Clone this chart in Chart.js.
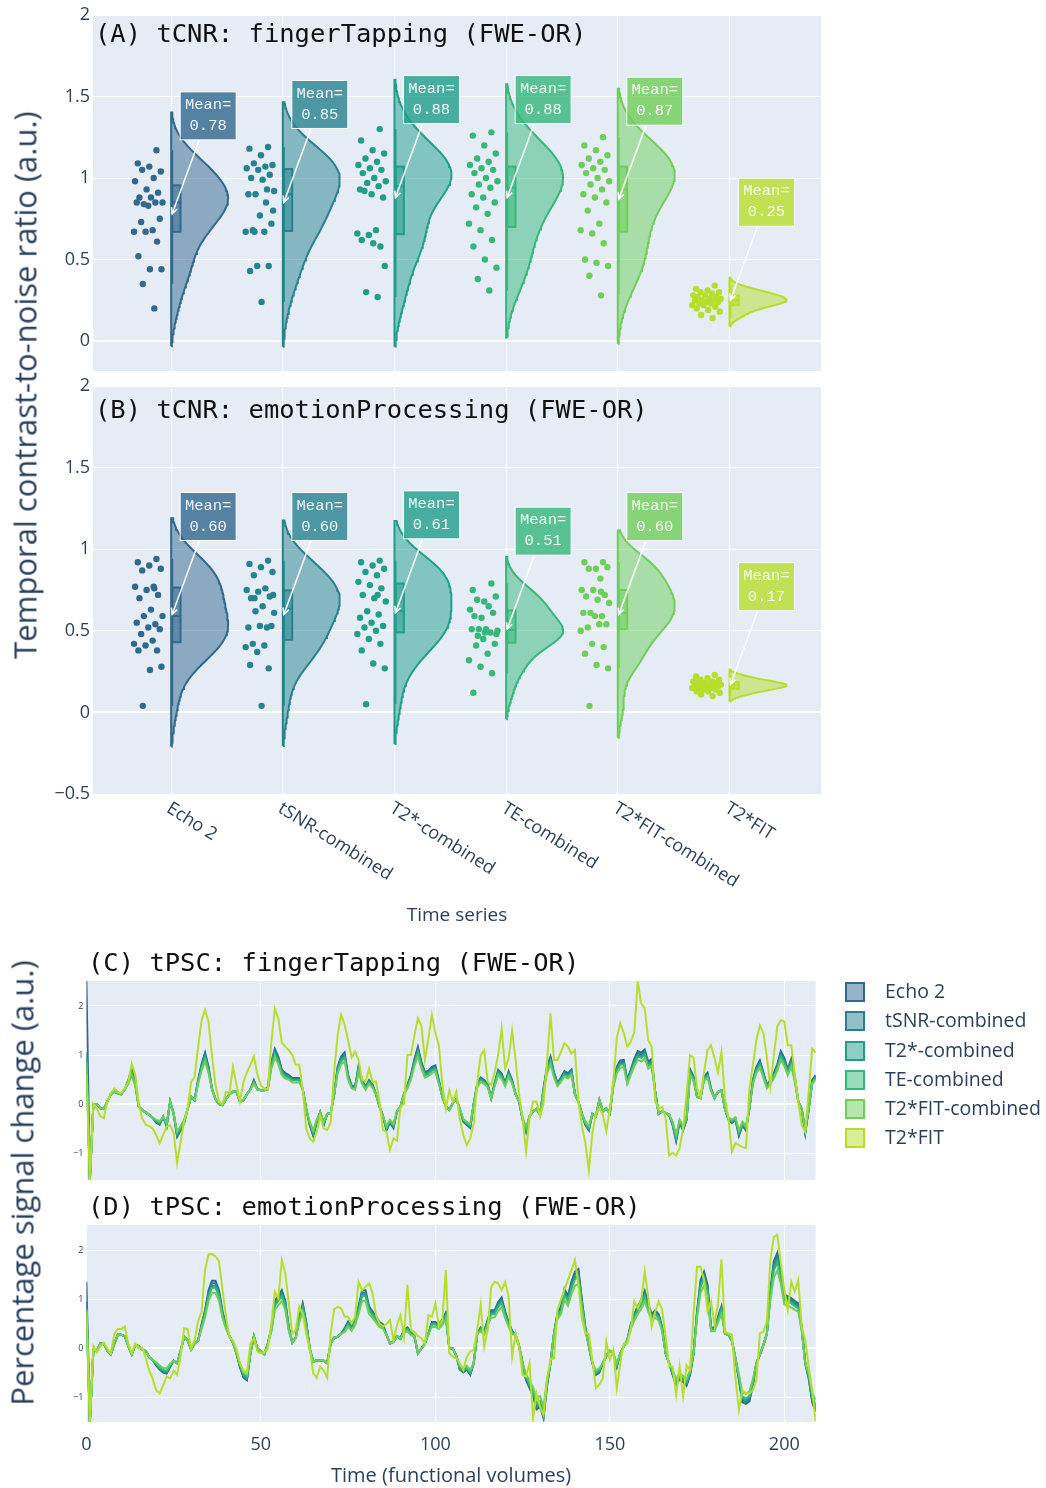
<!DOCTYPE html>
<html><head><meta charset="utf-8">
<script src="https://cdn.jsdelivr.net/npm/chart.js@4.4.1/dist/chart.umd.min.js"></script>
<style>
body{margin:0;background:#fff;width:1046px;height:1488px;position:relative;overflow:hidden;font-family:"Open Sans",sans-serif;}
canvas{position:absolute;left:0;}
.ptitle{position:absolute;font-family:"DejaVu Sans Mono",monospace;font-size:25.5px;color:#111;white-space:pre;line-height:1;}
.ytitle{position:absolute;color:#2a3f5f;font-size:31px;white-space:nowrap;transform:translate(-50%,-50%) rotate(-90deg);line-height:1;}
.leg{position:absolute;left:845px;font-size:19.5px;color:#2a3f5f;line-height:20px;}
.leg div{height:29.3px;position:relative;}
.leg span.sq{position:absolute;left:0;top:0;width:16px;height:16px;border:2px solid;}
.leg span.tx{position:absolute;left:40px;top:-1px;white-space:nowrap;}
</style></head>
<body>
<canvas id="cA" width="1046" height="390" style="top:0"></canvas>
<canvas id="cB" width="1046" height="570" style="top:370px"></canvas>
<canvas id="cC" width="1046" height="250" style="top:940px"></canvas>
<canvas id="cD" width="1046" height="303" style="top:1185px"></canvas>
<div class="ptitle" style="left:95px;top:21px">(A) tCNR: fingerTapping (FWE-OR)</div>
<div class="ptitle" style="left:95px;top:397px">(B) tCNR: emotionProcessing (FWE-OR)</div>
<div class="ptitle" style="left:88px;top:950px">(C) tPSC: fingerTapping (FWE-OR)</div>
<div class="ptitle" style="left:88px;top:1194px">(D) tPSC: emotionProcessing (FWE-OR)</div>
<div class="ytitle" style="left:25px;top:385px">Temporal contrast-to-noise ratio (a.u.)</div>
<div class="ytitle" style="left:22px;top:1183px">Percentage signal change (a.u.)</div>
<div class="leg" id="legend" style="top:982px"></div>
<script>
// ---------- categories / series ----------
const catNames = ['Echo 2','tSNR-combined','T2*-combined','TE-combined','T2*FIT-combined','T2*FIT'];
const colors = ['#31688e','#26828e','#1f9e89','#35b779','#6ece58','#b5de2b'];

// ---------- Panel A: tCNR fingerTapping (per-subject values) ----------
const aEcho2 = [1.17,1.09,1.07,1.04,1.05,1.0,0.98,0.93,0.91,0.88,0.88,0.85,0.84,0.85,0.85,0.83,0.75,0.73,0.68,0.67,0.67,0.61,0.52,0.44,0.44,0.35,0.2];
const aTsnr = [1.19,1.18,1.14,1.08,1.09,1.07,1.06,1.05,1.02,1.0,0.99,0.92,0.9,0.93,0.9,0.77,0.72,0.68,0.67,0.67,0.46,0.46,0.43,0.24,0.8,0.67,0.85];
const aT2s = [1.3,1.23,1.17,1.15,1.12,1.1,1.08,1.06,1.05,1.03,1.0,0.98,0.97,0.95,0.93,0.9,0.88,0.92,0.68,0.66,0.65,0.58,0.62,0.6,0.46,0.3,0.27];
const aTe = [1.28,1.26,1.2,1.15,1.12,1.1,1.08,1.06,1.05,1.03,1.0,0.98,0.96,0.94,0.9,0.88,0.85,0.82,0.78,0.72,0.68,0.62,0.58,0.5,0.45,0.38,0.31];
const aFitc = [1.25,1.2,1.17,1.14,1.12,1.1,1.08,1.06,1.05,1.03,1.0,0.98,0.96,0.93,0.9,0.88,0.85,0.8,0.72,0.68,0.66,0.6,0.5,0.48,0.46,0.4,0.28];
const aFit = [0.34,0.32,0.31,0.3,0.3,0.29,0.28,0.28,0.27,0.27,0.26,0.26,0.25,0.25,0.25,0.24,0.24,0.23,0.23,0.22,0.22,0.21,0.2,0.19,0.18,0.16,0.14];
const meanA = [0.78,0.85,0.88,0.88,0.87,0.25];
const meanLabelA = ['0.78','0.85','0.88','0.88','0.87','0.25'];

// ---------- Panel B: tCNR emotionProcessing ----------
const bEcho2 = [0.94,0.92,0.9,0.88,0.87,0.77,0.77,0.75,0.72,0.7,0.63,0.59,0.59,0.54,0.55,0.52,0.51,0.48,0.44,0.42,0.41,0.38,0.38,0.26,0.28,0.04,0.76];
const bTsnr = [0.93,0.91,0.89,0.86,0.84,0.76,0.75,0.74,0.71,0.7,0.65,0.61,0.62,0.52,0.52,0.53,0.53,0.42,0.41,0.4,0.37,0.27,0.29,0.04,0.72,0.7];
const bT2s = [0.93,0.92,0.9,0.88,0.86,0.84,0.8,0.78,0.76,0.72,0.7,0.68,0.62,0.6,0.58,0.55,0.53,0.52,0.5,0.48,0.45,0.42,0.38,0.3,0.27,0.05,0.72];
const bTe = [0.79,0.75,0.68,0.71,0.69,0.65,0.63,0.58,0.61,0.59,0.51,0.5,0.51,0.49,0.51,0.45,0.42,0.41,0.36,0.32,0.28,0.24,0.12,0.49,0.48,0.47];
const bFitc = [0.92,0.92,0.88,0.89,0.88,0.82,0.75,0.75,0.72,0.71,0.69,0.67,0.61,0.59,0.61,0.59,0.54,0.52,0.54,0.5,0.42,0.4,0.36,0.29,0.27,0.04,0.74];
const bFit = [0.23,0.22,0.21,0.2,0.2,0.19,0.19,0.18,0.18,0.18,0.17,0.17,0.17,0.17,0.16,0.16,0.16,0.15,0.15,0.15,0.14,0.14,0.13,0.13,0.12,0.11,0.1];
const meanB = [0.60,0.60,0.61,0.51,0.60,0.17];
const meanLabelB = ['0.60','0.60','0.61','0.51','0.60','0.17'];

// ---------- Panel C: tPSC fingerTapping (per volume) ----------
const cEcho2 = [2.51,-1.55,0,0,-0.09,-0.1,0.05,0.2,0.25,0.22,0.2,0.3,0.49,0.71,0.43,-0.05,-0.12,-0.17,-0.22,-0.28,-0.38,-0.42,-0.26,-0.46,0.05,-0.2,-0.67,-0.54,-0.39,-0.1,0.15,0.08,0.49,0.81,1.05,0.76,0.3,0.1,0,-0.02,0.1,0.2,0.25,0.25,0.05,0.08,0.2,0.3,0.49,0.3,0.28,0.28,0.35,0.86,1.13,0.97,0.7,0.63,0.59,0.53,0.53,0.53,0.3,-0.1,-0.43,-0.65,-0.39,-0.17,-0.43,-0.2,-0.19,0.2,0.76,0.97,1.05,0.59,0.38,0.35,0.78,0.49,0.35,0.49,0.4,0.2,-0.05,-0.25,-0.54,-0.38,-0.49,-0.15,-0.05,0.2,0.39,0.59,0.92,1.17,0.86,0.65,0.68,0.76,0.79,0.49,0.15,-0.05,-0.12,0.02,0.1,-0.1,-0.36,-0.43,-0.49,0,0.41,0.54,0.49,0.41,0.12,0.43,0.7,0.62,0.43,0.67,0.49,0.2,0.05,-0.32,-0.57,-0.25,-0.15,-0.1,-0.22,0.32,0.76,0.97,0.65,0.43,0.54,0.67,0.63,0.7,0.2,0.05,-0.2,-0.43,-0.54,-0.2,-0.25,0.08,-0.15,-0.09,-0.19,0.41,0.76,0.89,0.9,0.49,0.7,0.92,1.08,1.05,1.11,0.86,0.92,0.25,-0.2,-0.15,-0.18,-0.22,-0.43,-0.76,-0.38,-0.54,-0.32,0.71,0.56,0.15,0.12,0.56,0.64,0.32,0.12,0.25,0.28,-0.1,-0.32,-0.39,-0.32,-0.65,-0.43,-0.54,-0.09,0.49,0.76,0.89,0.65,0.39,0.49,0.63,0.81,1.08,0.94,0.71,0.92,0.56,0.05,-0.1,-0.6,-0.1,0.49,0.59];
const cTsnr = [1.05,-1.55,0,0,-0.09,-0.1,0.05,0.2,0.25,0.22,0.2,0.3,0.47,0.69,0.42,-0.05,-0.12,-0.17,-0.22,-0.28,-0.36,-0.41,-0.26,-0.45,0.05,-0.2,-0.64,-0.52,-0.37,-0.1,0.15,0.08,0.47,0.78,1.01,0.73,0.3,0.1,0,-0.02,0.1,0.2,0.25,0.25,0.05,0.08,0.2,0.3,0.47,0.3,0.28,0.28,0.33,0.83,1.09,0.94,0.68,0.6,0.57,0.51,0.51,0.51,0.3,-0.1,-0.42,-0.62,-0.37,-0.17,-0.42,-0.2,-0.19,0.2,0.73,0.94,1.01,0.57,0.36,0.33,0.75,0.47,0.33,0.47,0.38,0.2,-0.05,-0.25,-0.52,-0.36,-0.47,-0.15,-0.05,0.2,0.37,0.57,0.88,1.12,0.83,0.62,0.66,0.73,0.76,0.47,0.15,-0.05,-0.12,0.02,0.1,-0.1,-0.34,-0.42,-0.47,0,0.4,0.52,0.47,0.4,0.12,0.42,0.68,0.59,0.42,0.64,0.47,0.2,0.05,-0.31,-0.55,-0.25,-0.15,-0.1,-0.22,0.31,0.73,0.94,0.62,0.42,0.52,0.64,0.6,0.68,0.2,0.05,-0.2,-0.42,-0.52,-0.2,-0.25,0.08,-0.15,-0.09,-0.19,0.4,0.73,0.85,0.86,0.47,0.68,0.88,1.04,1.01,1.07,0.83,0.88,0.25,-0.2,-0.15,-0.18,-0.22,-0.42,-0.73,-0.36,-0.52,-0.31,0.69,0.54,0.15,0.12,0.54,0.61,0.31,0.12,0.25,0.28,-0.1,-0.31,-0.37,-0.31,-0.62,-0.42,-0.52,-0.09,0.47,0.73,0.85,0.62,0.37,0.47,0.6,0.78,1.04,0.9,0.69,0.88,0.54,0.05,-0.1,-0.58,-0.1,0.47,0.57];
const cT2s = [0.95,-1.55,0,0,-0.09,-0.1,0.05,0.2,0.25,0.22,0.2,0.3,0.45,0.66,0.4,-0.05,-0.12,-0.17,-0.22,-0.28,-0.35,-0.39,-0.26,-0.43,0.05,-0.2,-0.62,-0.5,-0.36,-0.1,0.15,0.08,0.45,0.75,0.97,0.7,0.3,0.1,0,-0.02,0.1,0.2,0.25,0.25,0.05,0.08,0.2,0.3,0.45,0.3,0.28,0.28,0.32,0.8,1.05,0.9,0.65,0.58,0.55,0.49,0.49,0.49,0.3,-0.1,-0.4,-0.6,-0.36,-0.17,-0.4,-0.2,-0.19,0.2,0.7,0.9,0.97,0.55,0.35,0.32,0.72,0.45,0.32,0.45,0.37,0.2,-0.05,-0.25,-0.5,-0.35,-0.45,-0.15,-0.05,0.2,0.36,0.55,0.85,1.08,0.8,0.6,0.63,0.7,0.73,0.45,0.15,-0.05,-0.12,0.02,0.1,-0.1,-0.33,-0.4,-0.45,0,0.38,0.5,0.45,0.38,0.12,0.4,0.65,0.57,0.4,0.62,0.45,0.2,0.05,-0.3,-0.53,-0.25,-0.15,-0.1,-0.22,0.3,0.7,0.9,0.6,0.4,0.5,0.62,0.58,0.65,0.2,0.05,-0.2,-0.4,-0.5,-0.2,-0.25,0.08,-0.15,-0.09,-0.19,0.38,0.7,0.82,0.83,0.45,0.65,0.85,1,0.97,1.03,0.8,0.85,0.25,-0.2,-0.15,-0.18,-0.22,-0.4,-0.7,-0.35,-0.5,-0.3,0.66,0.52,0.15,0.12,0.52,0.59,0.3,0.12,0.25,0.28,-0.1,-0.3,-0.36,-0.3,-0.6,-0.4,-0.5,-0.09,0.45,0.7,0.82,0.6,0.36,0.45,0.58,0.75,1,0.87,0.66,0.85,0.52,0.05,-0.1,-0.56,-0.1,0.45,0.55];
const cTe = [0.92,-1.55,0,0,-0.09,-0.1,0.05,0.2,0.25,0.22,0.2,0.3,0.44,0.64,0.39,-0.05,-0.12,-0.17,-0.22,-0.28,-0.34,-0.38,-0.26,-0.42,0.05,-0.2,-0.6,-0.49,-0.35,-0.1,0.15,0.08,0.44,0.73,0.94,0.68,0.3,0.1,0,-0.02,0.1,0.2,0.25,0.25,0.05,0.08,0.2,0.3,0.44,0.3,0.28,0.28,0.31,0.78,1.02,0.87,0.63,0.56,0.53,0.48,0.48,0.48,0.3,-0.1,-0.39,-0.58,-0.35,-0.17,-0.39,-0.2,-0.19,0.2,0.68,0.87,0.94,0.53,0.34,0.31,0.7,0.44,0.31,0.44,0.36,0.2,-0.05,-0.25,-0.49,-0.34,-0.44,-0.15,-0.05,0.2,0.35,0.53,0.82,1.05,0.78,0.58,0.61,0.68,0.71,0.44,0.15,-0.05,-0.12,0.02,0.1,-0.1,-0.32,-0.39,-0.44,0,0.37,0.49,0.44,0.37,0.12,0.39,0.63,0.55,0.39,0.6,0.44,0.2,0.05,-0.29,-0.51,-0.25,-0.15,-0.1,-0.22,0.29,0.68,0.87,0.58,0.39,0.49,0.6,0.56,0.63,0.2,0.05,-0.2,-0.39,-0.49,-0.2,-0.25,0.08,-0.15,-0.09,-0.19,0.37,0.68,0.8,0.81,0.44,0.63,0.82,0.97,0.94,1.0,0.78,0.82,0.25,-0.2,-0.15,-0.18,-0.22,-0.39,-0.68,-0.34,-0.49,-0.29,0.64,0.5,0.15,0.12,0.5,0.57,0.29,0.12,0.25,0.28,-0.1,-0.29,-0.35,-0.29,-0.58,-0.39,-0.49,-0.09,0.44,0.68,0.8,0.58,0.35,0.44,0.56,0.73,0.97,0.84,0.64,0.82,0.5,0.05,-0.1,-0.54,-0.1,0.44,0.53];
const cFitc = [0.85,-1.55,0,0,-0.09,-0.1,0.05,0.2,0.25,0.22,0.2,0.3,0.41,0.59,0.36,-0.05,-0.12,-0.17,-0.22,-0.28,-0.32,-0.35,-0.26,-0.39,0.05,-0.2,-0.56,-0.45,-0.32,-0.1,0.15,0.08,0.41,0.68,0.87,0.63,0.3,0.1,0,-0.02,0.1,0.2,0.25,0.25,0.05,0.08,0.2,0.3,0.41,0.3,0.28,0.28,0.29,0.72,0.95,0.81,0.59,0.52,0.5,0.44,0.44,0.44,0.3,-0.1,-0.36,-0.54,-0.32,-0.17,-0.36,-0.2,-0.19,0.2,0.63,0.81,0.87,0.5,0.32,0.29,0.65,0.41,0.29,0.41,0.33,0.2,-0.05,-0.25,-0.45,-0.32,-0.41,-0.15,-0.05,0.2,0.32,0.5,0.77,0.97,0.72,0.54,0.57,0.63,0.66,0.41,0.15,-0.05,-0.12,0.02,0.1,-0.1,-0.3,-0.36,-0.41,0,0.34,0.45,0.41,0.34,0.12,0.36,0.59,0.51,0.36,0.56,0.41,0.2,0.05,-0.27,-0.48,-0.25,-0.15,-0.1,-0.22,0.27,0.63,0.81,0.54,0.36,0.45,0.56,0.52,0.59,0.2,0.05,-0.2,-0.36,-0.45,-0.2,-0.25,0.08,-0.15,-0.09,-0.19,0.34,0.63,0.74,0.75,0.41,0.59,0.77,0.9,0.87,0.93,0.72,0.77,0.25,-0.2,-0.15,-0.18,-0.22,-0.36,-0.63,-0.32,-0.45,-0.27,0.59,0.47,0.15,0.12,0.47,0.53,0.27,0.12,0.25,0.28,-0.1,-0.27,-0.32,-0.27,-0.54,-0.36,-0.45,-0.09,0.41,0.63,0.74,0.54,0.32,0.41,0.52,0.68,0.9,0.78,0.59,0.77,0.47,0.05,-0.1,-0.5,-0.1,0.41,0.5];
const cFit = [0.6,-1.55,0,-0.1,-0.25,-0.29,0.05,0.22,0.32,0.25,0.22,0.32,0.45,0.82,0.6,0,-0.3,-0.42,-0.45,-0.5,-0.63,-0.8,-0.63,-0.46,-0.43,-0.6,-1.21,-0.77,-0.36,-0.1,0.45,0.55,1.15,1.7,1.92,1.68,0.97,0.4,0.05,0,0.25,0.22,0.76,0.4,0.05,0.45,0.65,0.8,0.97,0.6,0.38,0.32,0.3,1.25,1.95,1.75,1.25,1.17,1.1,1.0,0.8,0.8,0.3,-0.5,-0.7,-0.77,-0.57,-0.25,-0.5,-0.53,-0.38,0.66,1.4,1.82,1.62,1.3,0.95,1.07,0.9,0.5,0.46,0.72,0.45,0.46,0.05,-0.53,-0.57,-0.94,-0.7,-0.75,-0.05,0,1.0,1.0,1.4,1.75,1.6,0.9,1.33,1.82,1.45,1.2,0.4,-0.09,0.28,0.05,0.25,-0.3,-0.63,-0.84,-0.7,-0.4,0.45,1.0,1.1,0.45,0.39,0.65,1.0,1.54,0.73,0.93,1.5,0.9,0.2,-0.3,-0.97,-0.3,0.05,0.05,-0.26,0,0.85,1.85,0.9,0.9,1.06,1.24,1.17,1.03,1.1,0.05,-0.45,-0.8,-1.35,-0.6,-0.2,-0.09,-0.22,-0.56,-0.09,0.46,1.35,1.65,1.45,1.17,1.27,1.47,2.5,2.05,1.95,1.3,1.17,0.05,-0.09,-0.06,-0.3,-1.05,-1.0,-1.05,-0.9,-0.5,0.2,1.0,0.95,0.32,0.15,0.65,1.1,1.2,0.93,0.65,1.07,0.12,-0.3,-0.97,-0.8,-0.84,-0.88,-0.9,0.3,0.8,1.3,1.6,1.45,0.96,0.35,1.0,1.58,1.71,1.68,1.2,1.2,0.6,0.05,-0.43,-0.57,0.25,1.13,1.05];

// ---------- Panel D: tPSC emotionProcessing (per volume) ----------
const dEcho2 = [1.36,-1.5,-0.03,-0.05,0.1,0.1,-0.05,-0.12,0.1,0.28,0.28,0.25,0.05,-0.12,0.07,0.05,-0.02,-0.05,-0.18,-0.24,-0.35,-0.43,-0.49,-0.51,-0.38,-0.25,-0.3,-0.05,0.24,0.17,-0.02,0.1,0.16,0.49,0.78,1.19,1.38,1.38,1.19,0.76,0.49,0.25,0.12,-0.1,-0.38,-0.59,-0.65,-0.1,0.25,0,-0.05,-0.12,0.1,0.41,0.97,1.08,1.19,0.97,0.43,0.12,0.22,0.65,0.92,0.54,0,-0.27,-0.24,-0.25,-0.25,-0.3,0.1,0.22,0.24,0.3,0.41,0.55,0.44,0.59,0.86,1.19,1.19,0.86,0.76,0.65,0.54,0.49,0.28,0.1,0.14,0.25,0.2,0.38,0.43,0.33,0.25,-0.1,0,0.1,0.3,0.54,0.54,0.49,0.59,0.73,0,0,-0.15,-0.43,-0.49,-0.43,-0.54,-0.3,0.3,0.43,0.35,0.59,0.78,0.78,0.95,1.04,0.76,0.54,0.36,0.28,0.05,-0.3,-0.65,-0.81,-0.97,-1.24,-1.19,-1.42,-0.77,-0.3,0.3,0.73,0.85,1.22,1.07,1.36,1.57,1.62,0.99,0.43,0.05,-0.3,-0.54,-0.49,-0.3,-0.15,-0.05,-0.1,-0.38,-0.1,0.04,0.17,0.49,0.7,0.86,0.99,1.18,0.92,0.7,0.78,0.7,0.43,-0.1,-0.3,-0.54,-0.76,-0.62,-0.69,-0.76,-0.54,-0.1,0.76,1.4,1.57,1.3,0.43,0.43,0.65,0.86,0.3,0.28,0.15,-0.2,-0.65,-1.1,-1.13,-1.08,-0.76,-0.3,-0.13,0.07,0.3,1.19,1.78,1.95,1.62,1.1,1.07,1.03,0.97,0.92,0.43,-0.3,-0.62,-1.1,-1.29];
const dTsnr = [0.95,-1.5,-0.03,-0.05,0.1,0.1,-0.05,-0.12,0.1,0.28,0.28,0.25,0.05,-0.12,0.07,0.05,-0.02,-0.05,-0.18,-0.24,-0.33,-0.42,-0.47,-0.49,-0.36,-0.25,-0.3,-0.05,0.24,0.17,-0.02,0.1,0.16,0.47,0.75,1.14,1.33,1.33,1.14,0.73,0.47,0.25,0.12,-0.1,-0.36,-0.57,-0.62,-0.1,0.25,0,-0.05,-0.12,0.1,0.4,0.94,1.04,1.14,0.94,0.42,0.12,0.22,0.62,0.88,0.52,0,-0.27,-0.24,-0.25,-0.25,-0.3,0.1,0.22,0.24,0.3,0.4,0.53,0.43,0.57,0.83,1.14,1.14,0.83,0.73,0.62,0.52,0.47,0.28,0.1,0.14,0.25,0.2,0.36,0.42,0.32,0.25,-0.1,0,0.1,0.3,0.52,0.52,0.47,0.57,0.71,0,0,-0.15,-0.42,-0.47,-0.42,-0.52,-0.3,0.3,0.42,0.33,0.57,0.75,0.75,0.92,1.0,0.73,0.52,0.34,0.28,0.05,-0.3,-0.62,-0.78,-0.94,-1.2,-1.14,-1.4,-0.74,-0.3,0.3,0.71,0.82,1.18,1.03,1.31,1.51,1.56,0.96,0.42,0.05,-0.3,-0.52,-0.47,-0.3,-0.15,-0.05,-0.1,-0.36,-0.1,0.04,0.17,0.47,0.68,0.83,0.96,1.13,0.88,0.68,0.75,0.68,0.42,-0.1,-0.3,-0.52,-0.73,-0.59,-0.67,-0.73,-0.52,-0.1,0.73,1.35,1.51,1.25,0.42,0.42,0.62,0.83,0.3,0.28,0.15,-0.2,-0.62,-1.06,-1.09,-1.04,-0.73,-0.3,-0.13,0.07,0.3,1.14,1.72,1.88,1.56,1.06,1.03,0.99,0.94,0.88,0.42,-0.3,-0.59,-1.06,-1.24];
const dT2s = [0.8,-1.5,-0.03,-0.05,0.1,0.1,-0.05,-0.12,0.1,0.28,0.28,0.25,0.05,-0.12,0.07,0.05,-0.02,-0.05,-0.18,-0.24,-0.32,-0.4,-0.45,-0.47,-0.35,-0.25,-0.3,-0.05,0.24,0.17,-0.02,0.1,0.16,0.45,0.72,1.1,1.28,1.28,1.1,0.7,0.45,0.25,0.12,-0.1,-0.35,-0.55,-0.6,-0.1,0.25,0,-0.05,-0.12,0.1,0.38,0.9,1.0,1.1,0.9,0.4,0.12,0.22,0.6,0.85,0.5,0,-0.27,-0.24,-0.25,-0.25,-0.3,0.1,0.22,0.24,0.3,0.38,0.51,0.41,0.55,0.8,1.1,1.1,0.8,0.7,0.6,0.5,0.45,0.28,0.1,0.14,0.25,0.2,0.35,0.4,0.31,0.25,-0.1,0,0.1,0.3,0.5,0.5,0.45,0.55,0.68,0,0,-0.15,-0.4,-0.45,-0.4,-0.5,-0.3,0.3,0.4,0.32,0.55,0.72,0.72,0.88,0.96,0.7,0.5,0.33,0.28,0.05,-0.3,-0.6,-0.75,-0.9,-1.15,-1.1,-1.35,-0.71,-0.3,0.3,0.68,0.79,1.13,0.99,1.26,1.45,1.5,0.92,0.4,0.05,-0.3,-0.5,-0.45,-0.3,-0.15,-0.05,-0.1,-0.35,-0.1,0.04,0.17,0.45,0.65,0.8,0.92,1.09,0.85,0.65,0.72,0.65,0.4,-0.1,-0.3,-0.5,-0.7,-0.57,-0.64,-0.7,-0.5,-0.1,0.7,1.3,1.45,1.2,0.4,0.4,0.6,0.8,0.3,0.28,0.15,-0.2,-0.6,-1.02,-1.05,-1.0,-0.7,-0.3,-0.13,0.07,0.3,1.1,1.65,1.81,1.5,1.02,0.99,0.95,0.9,0.85,0.4,-0.3,-0.57,-1.02,-1.19];
const dTe = [0.75,-1.5,-0.03,-0.05,0.1,0.1,-0.05,-0.12,0.1,0.28,0.28,0.25,0.05,-0.12,0.07,0.05,-0.02,-0.05,-0.18,-0.24,-0.31,-0.39,-0.44,-0.46,-0.34,-0.25,-0.3,-0.05,0.24,0.17,-0.02,0.1,0.16,0.44,0.7,1.07,1.24,1.24,1.07,0.68,0.44,0.25,0.12,-0.1,-0.34,-0.53,-0.58,-0.1,0.25,0,-0.05,-0.12,0.1,0.37,0.87,0.97,1.07,0.87,0.39,0.12,0.22,0.58,0.82,0.49,0,-0.27,-0.24,-0.25,-0.25,-0.3,0.1,0.22,0.24,0.3,0.37,0.49,0.4,0.53,0.78,1.07,1.07,0.78,0.68,0.58,0.49,0.44,0.28,0.1,0.14,0.25,0.2,0.34,0.39,0.3,0.25,-0.1,0,0.1,0.3,0.49,0.49,0.44,0.53,0.66,0,0,-0.15,-0.39,-0.44,-0.39,-0.49,-0.3,0.3,0.39,0.31,0.53,0.7,0.7,0.85,0.93,0.68,0.49,0.32,0.28,0.05,-0.3,-0.58,-0.73,-0.87,-1.12,-1.07,-1.31,-0.69,-0.3,0.3,0.66,0.77,1.1,0.96,1.22,1.41,1.46,0.89,0.39,0.05,-0.3,-0.49,-0.44,-0.3,-0.15,-0.05,-0.1,-0.34,-0.1,0.04,0.17,0.44,0.63,0.78,0.89,1.06,0.82,0.63,0.7,0.63,0.39,-0.1,-0.3,-0.49,-0.68,-0.55,-0.62,-0.68,-0.49,-0.1,0.68,1.26,1.41,1.16,0.39,0.39,0.58,0.78,0.3,0.28,0.15,-0.2,-0.58,-0.99,-1.02,-0.97,-0.68,-0.3,-0.13,0.07,0.3,1.07,1.6,1.76,1.46,0.99,0.96,0.92,0.87,0.82,0.39,-0.3,-0.55,-0.99,-1.15];
const dFitc = [0.7,-1.5,-0.03,-0.05,0.1,0.1,-0.05,-0.12,0.1,0.28,0.28,0.25,0.05,-0.12,0.07,0.05,-0.02,-0.05,-0.18,-0.24,-0.28,-0.35,-0.4,-0.41,-0.31,-0.25,-0.3,-0.05,0.24,0.17,-0.02,0.1,0.16,0.4,0.63,0.97,1.13,1.13,0.97,0.62,0.4,0.25,0.12,-0.1,-0.31,-0.48,-0.53,-0.1,0.25,0,-0.05,-0.12,0.1,0.33,0.79,0.88,0.97,0.79,0.35,0.12,0.22,0.53,0.75,0.44,0,-0.27,-0.24,-0.25,-0.25,-0.3,0.1,0.22,0.24,0.3,0.33,0.45,0.36,0.48,0.7,0.97,0.97,0.7,0.62,0.53,0.44,0.4,0.28,0.1,0.14,0.25,0.2,0.31,0.35,0.27,0.25,-0.1,0,0.1,0.3,0.44,0.44,0.4,0.48,0.6,0,0,-0.15,-0.35,-0.4,-0.35,-0.44,-0.3,0.3,0.35,0.28,0.48,0.63,0.63,0.77,0.84,0.62,0.44,0.29,0.28,0.05,-0.3,-0.53,-0.66,-0.79,-1.01,-0.97,-1.19,-0.62,-0.3,0.3,0.6,0.7,0.99,0.87,1.11,1.28,1.32,0.81,0.35,0.05,-0.3,-0.44,-0.4,-0.3,-0.15,-0.05,-0.1,-0.31,-0.1,0.04,0.17,0.4,0.57,0.7,0.81,0.96,0.75,0.57,0.63,0.57,0.35,-0.1,-0.3,-0.44,-0.62,-0.5,-0.56,-0.62,-0.44,-0.1,0.62,1.14,1.28,1.06,0.35,0.35,0.53,0.7,0.3,0.28,0.15,-0.2,-0.53,-0.9,-0.92,-0.88,-0.62,-0.3,-0.13,0.07,0.3,0.97,1.45,1.59,1.32,0.9,0.87,0.84,0.79,0.75,0.35,-0.3,-0.5,-0.9,-1.05];
const dFit = [0.8,-1.5,0.05,-0.08,0.05,0.12,0,-0.1,0.3,0.4,0.4,0.45,0.1,-0.1,0.1,0,0.02,-0.2,-0.45,-0.62,-0.85,-0.92,-0.75,-0.57,-0.61,-0.45,-0.54,-0.15,0.41,0.4,0,0.17,0.55,0.75,1.6,1.92,1.93,1.88,1.78,1.2,0.65,0.24,0.16,0,-0.3,-0.45,-0.5,0.1,0.2,-0.06,-0.1,-0.08,0,0.51,1.16,1.02,1.8,1.53,0.92,0.3,0.38,0.85,0.7,0.3,0,-0.5,-0.6,-0.37,-0.45,-0.6,0.3,0.8,0.85,0.82,0.65,0.65,0.51,0.65,1.36,1.19,1.26,1.33,1.13,0.68,0.51,0.45,0.5,0.58,0.17,0.48,0.68,0.24,1.3,0.38,0.34,0.25,0.21,0.1,0.68,0.65,0.92,0.45,0.58,1.6,-0.1,-0.17,-0.2,-0.3,-0.44,-0.17,-0.06,-0.03,0.38,0.89,0.04,0.38,1.26,1.36,1.33,1.19,1.36,1.06,-0.17,0.31,0.04,-0.54,-0.57,-0.3,-1.43,-0.92,-1.19,-1.36,-0.64,-0.23,-0.2,0.79,1.0,1.2,1.4,1.6,1.81,1.3,0.6,0.31,0.3,-0.23,-0.81,-0.74,-0.61,0.14,-0.23,-0.03,-0.81,-0.3,0.1,0.1,0.38,0.96,0.82,0.99,1.57,1.06,0.45,0.75,0.96,0.79,0.24,-0.37,-0.37,-0.95,-0.37,-0.98,-0.34,-0.44,0.72,1.67,1.67,1.4,0.75,0.96,0.48,0.92,1.82,0.34,0.31,0.28,-0.61,-1.25,-0.85,-0.92,-0.92,-0.85,-0.64,0.31,0.34,0.55,1.8,2.28,2.32,1.74,1.19,0.79,1.36,1.16,1.4,0.45,0.17,-0.37,-0.85,-1.49];

// ---------- tick labels ----------
const yTicksA = [0, 0.5, 1, 1.5, 2];
const yTicksB = [-0.5, 0, 0.5, 1, 1.5, 2];
const yTicksTS = [-1, 0, 1, 2];
const xTicksTS = [0, 50, 100, 150, 200];

// ---------- helpers ----------
const groupsA = [aEcho2, aTsnr, aT2s, aTe, aFitc, aFit];
const groupsB = [bEcho2, bTsnr, bT2s, bTe, bFitc, bFit];
const seriesC = [cEcho2, cTsnr, cT2s, cTe, cFitc, cFit];
const seriesD = [dEcho2, dTsnr, dT2s, dTe, dFitc, dFit];
const volumes = cT2s.map((_, i) => i);
const catIdx = catNames.map((_, i) => i);
const TXT = '#2a3f5f', FONT = "'Open Sans', sans-serif";
Chart.defaults.font.family = FONT;

function rgba(hex, a) {
  const r = parseInt(hex.slice(1, 3), 16), g = parseInt(hex.slice(3, 5), 16), b = parseInt(hex.slice(5, 7), 16);
  return `rgba(${r},${g},${b},${a})`;
}
function fmt(v) { return v < 0 ? '\u2212' + Math.abs(v) : String(v); }
function stats(vals) {
  const s = [...vals].sort((a, b) => a - b), n = s.length;
  const q = p => { const pos = (n - 1) * p, lo = Math.floor(pos), hi = Math.ceil(pos); return s[lo] + (s[hi] - s[lo]) * (pos - lo); };
  const q1 = q(0.25), med = q(0.5), q3 = q(0.75), iqr = q3 - q1;
  const lf = q1 - 1.5 * iqr, uf = q3 + 1.5 * iqr;
  const wlo = s.find(v => v >= lf), whi = [...s].reverse().find(v => v <= uf);
  const mean = s.reduce((a, b) => a + b, 0) / n;
  const sd = Math.sqrt(s.reduce((a, b) => a + (b - mean) ** 2, 0) / (n - 1));
  const bw = 1.059 * Math.min(sd, iqr / 1.349) * Math.pow(n, -0.2);
  return { q1, med, q3, wlo, whi, bw, min: s[0], max: s[n - 1] };
}
const HALFW = 0.51, BOXW = 0.075;
function violin(vals, cat) {
  const st = stats(vals), lo = st.min - 2 * st.bw, hi = st.max + 2 * st.bw, N = 120;
  const ys = [], ds = [];
  for (let i = 0; i < N; i++) {
    const yv = lo + (hi - lo) * i / (N - 1); let d = 0;
    for (const v of vals) { const u = (yv - v) / st.bw; d += Math.exp(-0.5 * u * u); }
    ys.push(yv); ds.push(d);
  }
  const dm = Math.max(...ds);
  const pts = [{ x: cat, y: lo }];
  for (let i = 0; i < N; i++) pts.push({ x: cat + HALFW * ds[i] / dm, y: ys[i] });
  pts.push({ x: cat, y: hi }, { x: cat, y: lo });
  return pts;
}
function rainDatasets(groups) {
  const out = [];
  groups.forEach((vals, i) => {
    out.push({ data: violin(vals, i), borderColor: colors[i], backgroundColor: rgba(colors[i], 0.5), borderWidth: 2, fill: 'shape', pointRadius: 0, tension: 0 });
    out.push({ data: vals.map((v, k) => ({ x: i - 0.07 - 0.27 * ((k * 0.618034 + 0.23) % 1), y: v })), showLine: false, pointRadius: 3.2, pointBorderWidth: 0, pointBackgroundColor: colors[i] });
  });
  return out;
}
const bgPlugin = { id: 'bg', beforeDraw(chart) { const { ctx, chartArea: a } = chart; ctx.save(); ctx.fillStyle = '#e5ecf6'; ctx.fillRect(a.left, a.top, a.right - a.left, a.bottom - a.top); ctx.restore(); } };
function rainPlugin(groups, means, labels) {
  return { id: 'rain', afterDatasetsDraw(chart) {
    const { ctx, scales: { x, y } } = chart;
    ctx.save();
    groups.forEach((vals, i) => {
      const st = stats(vals), c = colors[i];
      const x0 = x.getPixelForValue(i) + 1, x1 = x.getPixelForValue(i + BOXW) + 1;
      ctx.strokeStyle = c; ctx.lineWidth = 2;
      ctx.beginPath(); ctx.moveTo(x0, y.getPixelForValue(st.wlo)); ctx.lineTo(x0, y.getPixelForValue(st.whi)); ctx.stroke();
      const y1 = y.getPixelForValue(st.q1), y3 = y.getPixelForValue(st.q3);
      ctx.fillStyle = rgba(c, 0.5); ctx.fillRect(x0, y3, x1 - x0, y1 - y3); ctx.strokeRect(x0, y3, x1 - x0, y1 - y3);
      const ym = y.getPixelForValue(st.med); ctx.beginPath(); ctx.moveTo(x0, ym); ctx.lineTo(x1, ym); ctx.stroke();
    });
    means.forEach((m, i) => {
      const px = x.getPixelForValue(i) + 1, py = y.getPixelForValue(m);
      const cx = px + 36, cy = py - 98, w = 56, h = 48;
      const dx = px - cx, dy = py - cy;
      const t = Math.min((w / 2) / Math.abs(dx), (h / 2) / Math.abs(dy));
      const sx = cx + dx * t, sy = cy + dy * t;
      ctx.strokeStyle = '#fff'; ctx.lineWidth = 1.5;
      ctx.beginPath(); ctx.moveTo(sx, sy); ctx.lineTo(px, py); ctx.stroke();
      const ang = Math.atan2(dy, dx);
      ctx.beginPath();
      ctx.moveTo(px - 7 * Math.cos(ang - 0.45), py - 7 * Math.sin(ang - 0.45));
      ctx.lineTo(px, py);
      ctx.lineTo(px - 7 * Math.cos(ang + 0.45), py - 7 * Math.sin(ang + 0.45));
      ctx.stroke();
      ctx.fillStyle = rgba(colors[i], 0.8); ctx.fillRect(cx - w / 2, cy - h / 2, w, h);
      ctx.lineWidth = 1; ctx.strokeRect(cx - w / 2, cy - h / 2, w, h);
      ctx.fillStyle = 'rgba(255,255,255,0.92)'; ctx.font = '15.5px "Liberation Mono", monospace';
      ctx.textAlign = 'center'; ctx.textBaseline = 'middle';
      ctx.fillText('Mean=', cx, cy - 11); ctx.fillText(labels[i], cx, cy + 10);
    });
    ctx.restore();
  } };
}
const rotLabels = { id: 'rot', afterDraw(chart) {
  const { ctx, scales: { x }, chartArea } = chart;
  ctx.save(); ctx.fillStyle = TXT; ctx.font = '18px ' + FONT; ctx.textAlign = 'left'; ctx.textBaseline = 'middle';
  catNames.forEach((n, i) => {
    ctx.save(); ctx.translate(x.getPixelForValue(i) - 3, chartArea.bottom + 13); ctx.rotate(32 * Math.PI / 180); ctx.fillText(n, 0, 0); ctx.restore();
  });
  ctx.restore();
} };
const gridW = c => (c.tick && c.tick.value === 0 ? 2 : 1);
function catX() {
  return { type: 'linear', min: -0.7, max: 5.82, afterBuildTicks: s => { s.ticks = catIdx.map(v => ({ value: v })); },
    ticks: { display: false }, grid: { color: '#fff', lineWidth: 1, drawTicks: false }, border: { display: false } };
}
function yAxis(ticks, min, max, size, width) {
  return { type: 'linear', min, max, afterBuildTicks: s => { s.ticks = ticks.map(v => ({ value: v })); },
    ticks: { color: TXT, font: { size, family: FONT }, padding: 3, callback: v => fmt(v) },
    grid: { color: '#fff', lineWidth: gridW, drawTicks: false }, border: { display: false }, afterFit: s => { s.width = width; } };
}
const common = { responsive: false, animation: false, devicePixelRatio: 1, plugins: { legend: { display: false }, tooltip: { enabled: false } } };

// Panel A
new Chart(document.getElementById('cA'), {
  type: 'line', data: { datasets: rainDatasets(groupsA) },
  options: { ...common, layout: { padding: { top: 15, right: 225, bottom: 19, left: 0 } },
    scales: { x: { ...catX(), afterFit: s => { s.height = 0; } }, y: yAxis(yTicksA, -0.184, 2, 18, 93) } },
  plugins: [bgPlugin, rainPlugin(groupsA, meanA, meanLabelA)]
});
// Panel B
new Chart(document.getElementById('cB'), {
  type: 'line', data: { datasets: rainDatasets(groupsB) },
  options: { ...common, layout: { padding: { top: 16, right: 225, bottom: 0, left: 0 } },
    scales: { x: { ...catX(), afterFit: s => { s.height = 146; },
      title: { display: true, text: 'Time series', color: TXT, font: { size: 19, family: FONT }, padding: { top: 0, bottom: 13 } } },
      y: yAxis(yTicksB, -0.5, 2, 18, 93) } },
  plugins: [bgPlugin, rainPlugin(groupsB, meanB, meanLabelB), rotLabels]
});
function tsDatasets(arrs) {
  return arrs.map((a, i) => ({ label: catNames[i], data: a, borderColor: colors[i], borderWidth: 2, pointRadius: 0, fill: false, tension: 0, order: 5 - i }));
}
function tsX(showTicks, height) {
  const o = { type: 'linear', min: 0, max: 209, afterBuildTicks: s => { s.ticks = xTicksTS.map(v => ({ value: v })); },
    ticks: { display: showTicks, color: TXT, font: { size: 18, family: FONT }, padding: 12, maxRotation: 0, callback: v => fmt(v) },
    grid: { color: '#fff', lineWidth: gridW, drawTicks: false }, border: { display: false }, afterFit: s => { s.height = height; } };
  if (showTicks) o.title = { display: true, text: 'Time (functional volumes)', color: TXT, font: { size: 20, family: FONT }, padding: { top: 0, bottom: 0 } };
  return o;
}
// Panel C
new Chart(document.getElementById('cC'), {
  type: 'line', data: { labels: volumes, datasets: tsDatasets(seriesC) },
  options: { ...common, layout: { padding: { top: 41, right: 230.3, bottom: 10, left: 0 } },
    scales: { x: tsX(false, 0), y: yAxis(yTicksTS, -1.55, 2.51, 9, 86.4) } },
  plugins: [bgPlugin]
});
// Panel D
new Chart(document.getElementById('cD'), {
  type: 'line', data: { labels: volumes, datasets: tsDatasets(seriesD) },
  options: { ...common, layout: { padding: { top: 40, right: 230.3, bottom: 0, left: 0 } },
    scales: { x: tsX(true, 66), y: yAxis(yTicksTS, -1.5, 2.52, 9, 86.4) } },
  plugins: [bgPlugin]
});
// Legend
const leg = document.getElementById('legend');
catNames.forEach((n, i) => {
  const d = document.createElement('div');
  d.innerHTML = `<span class="sq" style="border-color:${colors[i]};background:${rgba(colors[i], 0.5)}"></span><span class="tx">${n}</span>`;
  leg.appendChild(d);
});
</script>
</body></html>
